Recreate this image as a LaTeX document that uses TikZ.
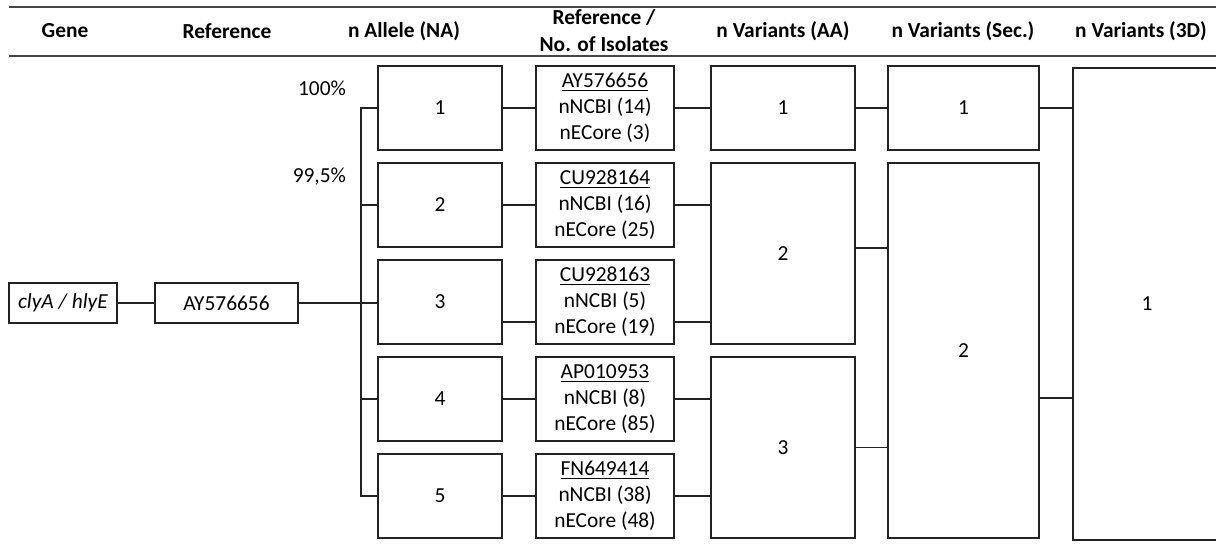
\documentclass[tikz,border=0pt]{standalone}
\usepackage{fontspec}
\setmainfont{Carlito}
\usepackage{tikz}
\usetikzlibrary{positioning, calc}
\definecolor{rulegray}{RGB}{70, 70, 70}
\definecolor{boxgray}{RGB}{35, 35, 35}

\begin{document}
\begin{tikzpicture}[x=0.5pt, y=-0.5pt,
    every node/.style={font=\fontsize{10.7}{13}\selectfont},
    head/.style={font=\fontsize{10.7}{13.5}\selectfont\bfseries, align=center},
    cell/.style={draw=boxgray, line width=0.9pt, inner sep=0pt, align=center},
    link/.style={boxgray, line width=0.9pt}]
    \useasboundingbox (0,0) rectangle (1216,549);

    % Header rules
    \draw[rulegray, line width=0.6pt] (9,7) -- (1216,7);
    \draw[rulegray, line width=1.2pt] (9,56) -- (1216,56);

    % Column heads
    \node[head] (hgene) at (65,31) {Gene};
    \node[head] (href) at (227,31) {Reference};
    \node[head] (hallele) at (404,31) {n Allele (NA)};
    \node[head] (hiso) at (604,31) {Reference /\\No. of Isolates};
    \node[head] (haa) at (783,31) {n Variants (AA)};
    \node[head] (hsec) at (963,31) {n Variants (Sec.)};
    \node[head] (h3d) at (1141,31) {n Variants (3D)};

    % Gene and its reference
    \node[cell, minimum width=54pt, minimum height=20pt] (gene) at (63,303)
        {\textit{clyA / hlyE}};
    \node[cell, minimum width=71.5pt, minimum height=20pt] (refseq) at (226.5,303)
        {AY576656};

    % Alleles and isolates, one row each
    \foreach \i/\acc/\ncbi/\ecore in {1/AY576656/14/3, 2/CU928164/16/25,
        3/CU928163/5/19, 4/AP010953/8/85, 5/FN649414/38/48} {
        \node[cell, minimum width=62pt, minimum height=42pt]
            (allele\i) at (440, {108+97*(\i-1)}) {\i};
        \node[cell, minimum width=69pt, minimum height=42pt]
            (iso\i) at (605, {108+97*(\i-1)})
            {\underline{\acc}\\nNCBI (\ncbi)\\nECore (\ecore)};
    }

    % Variant boxes
    \node[cell, minimum width=72pt, minimum height=42pt] (aa1) at (783,108) {1};
    \node[cell, minimum width=72pt, minimum height=90.5pt] (aa2) at (783,253.5) {2};
    \node[cell, minimum width=72pt, minimum height=90.5pt] (aa3) at (783,447.5) {3};
    \node[cell, minimum width=75.5pt, minimum height=42pt] (sec1) at (963.5,108) {1};
    \node[cell, minimum width=75.5pt, minimum height=187.5pt] (sec2) at (963.5,350.5) {2};
    \node[cell, minimum width=74pt, minimum height=236pt] (var3d) at (1147,304) {1};

    % Identity labels
    \node[anchor=east] (pct100) at (353,88) {100\%};
    \node[anchor=east] (pct995) at (353,177) {99,5\%};

    % Gene -> reference -> fork
    \coordinate (fork) at (361,303);
    \draw[link] (gene) -- (refseq);
    \draw[link] (refseq.east) -- (refseq.east -| allele3.west);
    \draw[link] (allele1.west) -| (fork) |- (allele5.west);
    \foreach \i in {2,4}
        \draw[link] (allele\i.west) -- (allele\i.west -| fork);

    % Allele -> isolates
    \foreach \i in {1,2,4,5}
        \draw[link] (allele\i) -- (iso\i);
    \coordinate (low3) at (0,322);
    \draw[link] (allele3.east |- low3) -- (iso3.west |- low3);

    % Isolates -> AA variants
    \draw[link] (iso1) -- (aa1);
    \draw[link] (iso2.east) -- (iso2.east -| aa2.west);
    \draw[link] (iso3.east |- low3) -- (aa2.west |- low3);
    \draw[link] (iso4.east) -- (iso4.east -| aa3.west);
    \draw[link] (iso5.east) -- (iso5.east -| aa3.west);

    % AA -> Sec. -> 3D
    \coordinate (mid2) at (0,248);
    \coordinate (mid4) at (0,398);
    \draw[link] (aa1) -- (sec1);
    \draw[link] (aa2.east |- mid2) -- (sec2.west |- mid2);
    \draw[link] (aa3.east) -- (aa3.east -| sec2.west);
    \draw[link] (sec1.east) -- (sec1.east -| var3d.west);
    \draw[link] (sec2.east |- mid4) -- (var3d.west |- mid4);
\end{tikzpicture}
\end{document}
